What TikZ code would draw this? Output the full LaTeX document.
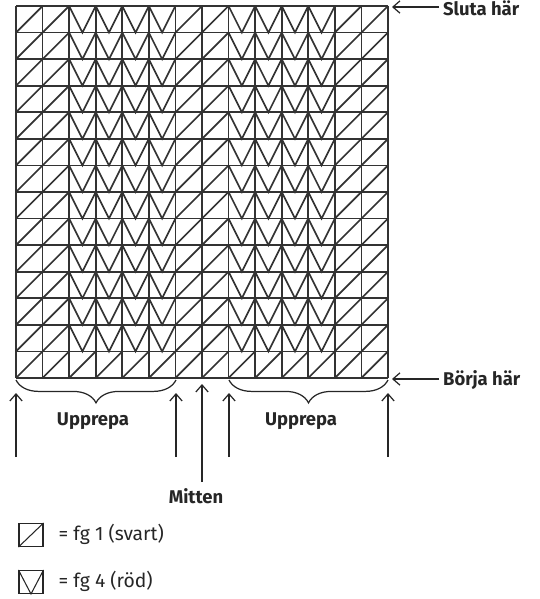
\documentclass[tikz,border=0pt]{standalone}
\usepackage{fontspec}
\setmainfont{Fira Sans}
\usetikzlibrary{arrows.meta,decorations.pathreplacing,positioning}

\tikzset{
  lbl/.style={font=\fontsize{10.5}{12}\selectfont\bfseries,inner sep=2pt},
  keytext/.style={font=\fontsize{11}{13}\selectfont,anchor=west,inner sep=0pt},
  keybox/.style={draw,line width=0.6pt,minimum width=0.48cm,minimum height=0.46cm,inner sep=0pt},
  repbrace/.style={decorate,decoration={brace,mirror,amplitude=13pt},line width=0.7pt}
}

\begin{document}
\begin{tikzpicture}[x=0.02cm,y=-0.02cm,>={Straight Barb[length=4pt,width=7pt]},line width=0.7pt,black!85]
\useasboundingbox (0,0) rectangle (539,599);

% the chart, 14 x 14 squares
\begin{scope}[shift={(16,6)},scale=26.57,line width=0.95pt,black!80]
\foreach \i in {0,...,14}{
  \draw (\i,0) -- (\i,14);
  \draw (0,\i) -- (14,\i);
}
\foreach \col in {0,1,6,7,12,13}{
  \foreach \row in {1,...,14}
    \draw (\col,\row) -- ++(1,-1);
}
\foreach \col in {2,3,4,5,8,9,10,11}{
  \draw (\col,14) -- ++(1,-1);
  \foreach \row in {0,...,12}
    \draw (\col,\row) -- ++(0.5,1) -- ++(0.5,-1);
}
\end{scope}

% start and end
\node[lbl,anchor=west] (sluta) at (439,8) {Sluta här};
\node[lbl,anchor=west] (borja) at (439,380) {Börja här};
\coordinate (slutaend) at (392,7);
\coordinate (borjaend) at (392,379);
\draw[->] (sluta.west |- slutaend) -- (slutaend);
\draw[->] (borja.west |- borjaend) -- (borjaend);

% repeats
\draw[repbrace] (16,380) -- (176,380);
\draw[repbrace] (229,380) -- (388,380);
\node[lbl] (upp1) at (93,421) {Upprepa};
\node[lbl] (upp2) at (301,421) {Upprepa};

\foreach \x/\n in {16/a,176/b,229/c,388/d}{
  \coordinate (\n0) at (\x,457);
  \coordinate (\n1) at (\x,393);
  \draw[->] (\n0) -- (\n1);
}
\node[lbl] (mitten) at (196,496) {Mitten};
\coordinate (m0) at (202,482);
\coordinate (m1) at (202,384);
\draw[->] (m0) -- (m1);

% key
\node[keybox] (svart) at (31,535) {};
\draw[line width=0.6pt] (svart.south west) -- (svart.north east);
\node[keytext] (svarttext) at (58,534) {= fg 1 (svart)};
\node[keybox] (rod) at (31,582) {};
\draw[line width=0.6pt] (rod.north west) -- (rod.south) -- (rod.north east);
\node[keytext] (rodtext) at (58,581) {= fg 4 (röd)};
\end{tikzpicture}
\end{document}
